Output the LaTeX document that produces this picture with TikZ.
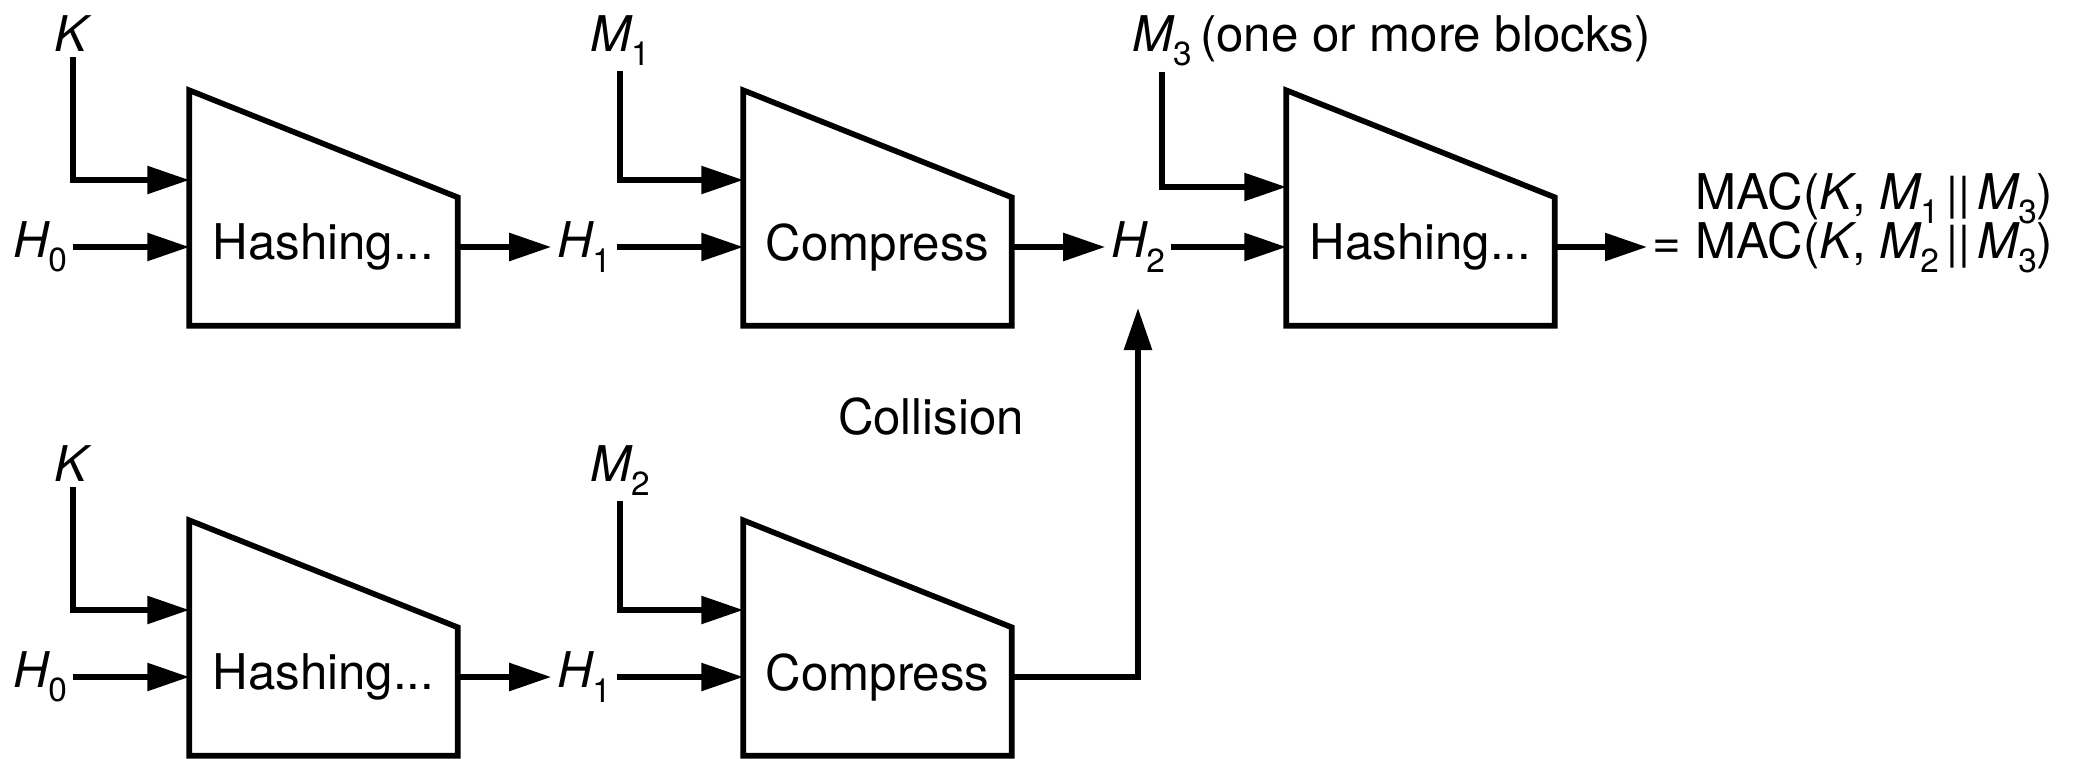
\documentclass[tikz,border=0pt]{standalone}
\usepackage{fontspec}
\setmainfont{TeX Gyre Heros}
\usetikzlibrary{arrows.meta,positioning,calc}

\newcommand{\sub}[1]{\raisebox{-0.55ex}{\fontsize{9.5}{10}\selectfont #1}}
\newcommand{\vr}[2]{\textit{#1}\kern-0.5pt\sub{#2}}
\newcommand{\cat}{\kern2pt{\fontsize{13}{13}\selectfont|\kern0.2pt|}\kern2pt}

\begin{document}
\begin{tikzpicture}[
  font=\fontsize{14}{15}\selectfont,
  blk/.style={minimum width=2.67cm, minimum height=1.56cm, inner sep=0pt},
  lbl/.style={inner sep=1.5pt},
  conn/.style={line width=1.6pt, -{Triangle[length=0.42cm,width=0.27cm]}},
  outl/.style={line width=1.6pt, line join=miter},
]
\useasboundingbox (0,0) rectangle (20.95,7.58);
% Top row: K, M1, then M3
\node[blk] (hA) at (3.235,5.11) {Hashing...};
\node[blk] (cA) at (8.775,5.11) {Compress};
\node[blk] (hC) at (14.205,5.11) {Hashing...};
\node[lbl, anchor=base] (kA) at (0.73,7.07) {\textit{K}};
\node[lbl] (h0A) at (0.40,5.11) {\vr{H}{0}};
\node[lbl] (h1A) at (5.84,5.11) {\vr{H}{1}};
\node[lbl, anchor=base] (mA) at (6.20,7.07) {\vr{M}{1}};
\node[lbl] (h2) at (11.38,5.11) {\vr{H}{2}};
\node[lbl, anchor=base] (mC) at (11.62,7.07) {\vr{M}{3}};
\node[lbl, base right=-1pt of mC] (mCnote) {(one or more blocks)};
\node[lbl, anchor=west] (macB) at (16.47,5.11) {= MAC(\textit{K}, \vr{M}{2}\cat\vr{M}{3})};
\node[lbl, anchor=base east] (macA) at ([yshift=0.49cm]macB.base east) {MAC(\textit{K}, \vr{M}{1}\cat\vr{M}{3})};
\node[lbl] (coll) at (9.31,3.41) {Collision};
% Bottom row: K, M2
\node[blk] (hB) at (3.235,0.81) {Hashing...};
\node[blk] (cB) at (8.775,0.81) {Compress};
\node[lbl, anchor=base] (kB) at (0.73,2.77) {\textit{K}};
\node[lbl] (h0B) at (0.40,0.81) {\vr{H}{0}};
\node[lbl] (h1B) at (5.84,0.81) {\vr{H}{1}};
\node[lbl, anchor=base] (mB) at (6.20,2.77) {\vr{M}{2}};

% slanted outlines
\foreach \b in {hA,cA,hC,hB,cB}
  \draw[outl] (\b.south west) -- ([yshift=0.78cm]\b.north west)
    -- ([yshift=-0.29cm]\b.north east) -- (\b.south east) -- cycle;

\draw[conn] (kA.south) |- ([yshift=0.67cm]hA.west);
\draw[conn] (h0A) -- (hA.west);
\draw[conn] (hA.east) -- (h1A);
\draw[conn] (h1A) -- (cA.west);
\draw[conn] (mA.south) |- ([yshift=0.67cm]cA.west);
\draw[conn] (cA.east) -- (h2);
\draw[conn] (h2) -- (hC.west);
\draw[conn] (mC.south) |- ([yshift=0.60cm]hC.west);
\draw[conn] (hC.east) -- (macB.west);

\draw[conn] (kB.south) |- ([yshift=0.67cm]hB.west);
\draw[conn] (h0B) -- (hB.west);
\draw[conn] (hB.east) -- (h1B);
\draw[conn] (h1B) -- (cB.west);
\draw[conn] (mB.south) |- ([yshift=0.67cm]cB.west);
\draw[conn, shorten >=0.3cm] (cB.east) -| (h2.south);
\end{tikzpicture}
\end{document}
